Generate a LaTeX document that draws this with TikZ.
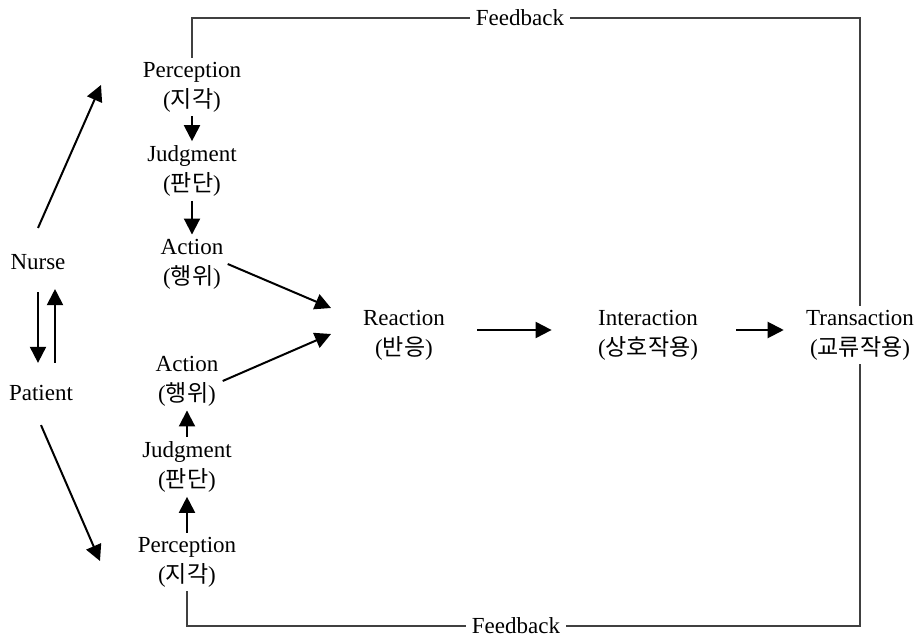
\documentclass[tikz,border=0pt]{standalone}
\usepackage{fontspec}
\setmainfont{Liberation Serif}
\newfontfamily\kr{Noto Sans CJK KR}
\usetikzlibrary{arrows.meta}
\tikzset{
  concept/.style={align=center, inner sep=2pt, font=\fontsize{11.5}{15}\selectfont},
  arr/.style={line width=1pt, -{Triangle[length=8pt,width=8pt]}},
  fb/.style={line width=0.6pt, black!75}
}
\begin{document}
\begin{tikzpicture}[x=0.5pt,y=-0.5pt]
  \useasboundingbox (0,0) rectangle (920,636);
  \node[concept] (nurse) at (38,262) {Nurse};
  \node[concept] (patient) at (41,393) {Patient};
  \node[concept] (p1) at (192,87) {Perception\\({\kr 지각})};
  \node[concept] (j1) at (192,171) {Judgment\\({\kr 판단})};
  \node[concept] (a1) at (192,264) {Action\\({\kr 행위})};
  \node[concept] (a2) at (187,381) {Action\\({\kr 행위})};
  \node[concept] (j2) at (187,467) {Judgment\\({\kr 판단})};
  \node[concept] (p2) at (187,562) {Perception\\({\kr 지각})};
  \node[concept] (re) at (404,335) {Reaction\\({\kr 반응})};
  \node[concept] (in) at (648,335) {Interaction\\({\kr 상호작용})};
  \node[concept] (tr) at (860,335) {Transaction\\({\kr 교류작용})};
  \node[concept, inner sep=3pt] (fbt) at (520,18) {Feedback};
  \node[concept, inner sep=3pt] (fbb) at (516,626) {Feedback};
  \coordinate (ntip) at (101,85);
  \coordinate (ptip) at (100,561);
  \coordinate (rtip1) at (331,308);
  \coordinate (rtip2) at (331,334);

  \draw[arr] ([yshift=11pt]nurse.north) -- (ntip);
  \draw[arr] ([yshift=-10pt]patient.south) -- (ptip);
  \draw[arr] ([yshift=-9pt]nurse.south) -- ([yshift=9pt]nurse.south |- patient.north);
  \draw[arr] ([xshift=8.5pt,yshift=9pt]nurse.south |- patient.north) -- ([xshift=8.5pt,yshift=-7.5pt]nurse.south);
  \draw[arr] (p1) -- (j1);
  \draw[arr] (j1) -- (a1);
  \draw[arr] (p2) -- (j2);
  \draw[arr] (j2) -- (a2);
  \draw[arr] (a1.east) -- (rtip1);
  \draw[arr] (a2.east) -- (rtip2);
  \draw[arr, shorten <=14pt, shorten >=21pt] ([yshift=2.5pt]re.east) -- ([yshift=2.5pt]in.west);
  \draw[arr, shorten <=17pt, shorten >=9pt] ([yshift=2.5pt]in.east) -- ([yshift=2.5pt]tr.west);

  \draw[fb] (p1.north) -- (p1.north |- fbt) -- (fbt.west);
  \draw[fb] (fbt.east) -| (tr.north);
  \draw[fb] (p2.south) |- (fbb.west);
  \draw[fb] (fbb.east) -| (tr.south);
\end{tikzpicture}
\end{document}
